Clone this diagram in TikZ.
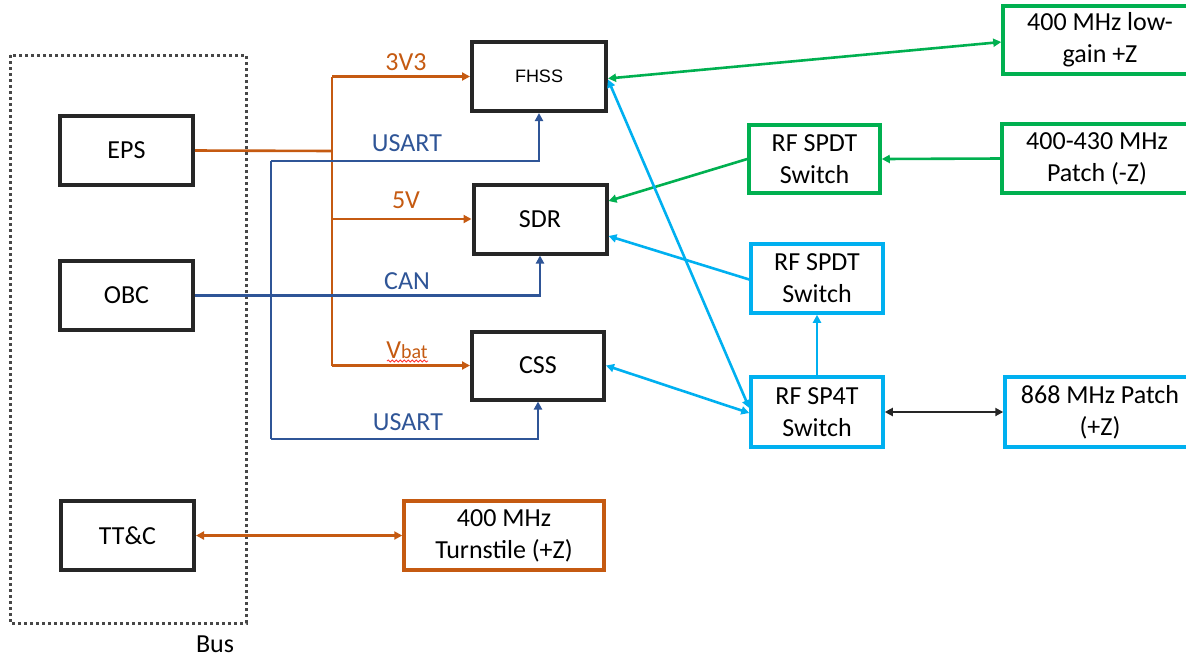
\documentclass[tikz,border=0pt]{standalone}
\usepackage{fontspec}
\setmainfont{Carlito}
\newfontfamily\arialfont{Liberation Sans}
\usetikzlibrary{arrows.meta,decorations.pathmorphing,calc}
\definecolor{boxblack}{HTML}{262626}
\definecolor{orng}{HTML}{C55A11}
\definecolor{dblue}{HTML}{2F5597}
\definecolor{grn}{HTML}{00B050}
\definecolor{cyn}{HTML}{00B0F0}
\tikzset{
  blk/.style={draw=boxblack, line width=4pt, rectangle, minimum width=133pt, minimum height=69pt, align=center, font=\fontsize{26}{31}\selectfont},
  cbox/.style={draw=#1, line width=3.5pt, rectangle, align=center, font=\fontsize{26}{32}\selectfont, inner sep=0pt},
  wire/.style={line width=2.6pt},
  tip/.style={-{Triangle[length=8pt,width=8pt]}},
  dtip/.style={{Triangle[length=8pt,width=8pt]}-{Triangle[length=8pt,width=8pt]}},
  lbl/.style={font=\fontsize{26}{31}\selectfont, inner sep=0pt},
}
\begin{document}
\begin{tikzpicture}[x=1pt,y=-1pt]
\useasboundingbox (0,0) rectangle (1186,657);
\clip (0,0) rectangle (1186,657);
% bus
\draw[boxblack!85, line width=3pt, dash pattern=on 3pt off 3pt] (10,55) rectangle (246,623);
\node[lbl] (bus) at (215,644) {Bus};
% black boxes
\node[blk] (EPS) at (126.5,150.5) {EPS};
\node[blk] (OBC) at (126.5,295.5) {OBC};
\node[blk] (TTC) at (127.5,535.5) {TT\&C};
\node[blk, minimum width=134pt, font=\arialfont\fontsize{18}{22}\selectfont] (FHSS) at (539,76.5) {FHSS};
\node[blk] (SDR) at (540,219) {SDR};
\node[blk, minimum width=132pt, minimum height=68pt] (CSS) at (538,365.5) {CSS};
% coloured boxes
\node[cbox=orng, minimum width=200pt, minimum height=69pt] (TS) at (504,535.5) {400 MHz\\Turnstile (+Z)};
\node[cbox=grn, minimum width=131pt, minimum height=68pt] (gSW) at (814.5,159) {RF SPDT\\Switch};
\node[cbox=cyn, minimum width=132pt, minimum height=69pt] (bSW) at (817,278.5) {RF SPDT\\Switch};
\node[cbox=cyn, minimum width=132pt, minimum height=70pt] (SP4T) at (817,412) {RF SP4T\\Switch};
\node[cbox=grn, minimum width=194pt, minimum height=68pt] (LG) at (1100,40) {400 MHz low-\\gain +Z};
\node[cbox=grn, minimum width=190pt, minimum height=69pt] (PZ) at (1097,158.5) {400-430 MHz\\Patch (-Z)};
\node[cbox=cyn, minimum width=190pt, minimum height=70pt] (P868) at (1100,412) {868 MHz Patch\\(+Z)};
% orange power bus
\coordinate (jE) at (332,151);
\coordinate (j3) at (332,76.5);
\coordinate (j5) at (332,219);
\coordinate (jV) at (332,365.5);
\draw[orng, wire] (EPS.east) -- (jE);
\draw[orng, wire] (j3) -- (jV);
\draw[orng, wire, tip] (j3) -- (FHSS.west);
\draw[orng, wire, tip] (j5) -- (SDR.west);
\draw[orng, wire, tip] (jV) -- (CSS.west);
\node[lbl, text=orng] (l3v3) at (406,62) {3V3};
\node[lbl, text=orng] (l5v) at (406,200) {5V};
\node[lbl, text=orng] (lvbat) at (407,350) {V{\fontsize{20}{22}\selectfont bat}};
\coordinate (sqA) at (387,361);
\coordinate (sqB) at (428,361);
\draw[red!80, line width=0.8pt, decorate, decoration={snake, amplitude=1.1pt, segment length=4pt}] (sqA) -- (sqB);
% dark blue data lines
\coordinate (bT) at (271,161);
\coordinate (bB) at (271,439);
\draw[dblue, wire] (bT) -- (bB);
\draw[dblue, wire, tip] (bT) -| (FHSS.south);
\draw[dblue, wire, tip] (bB) -| (CSS.south);
\draw[dblue, wire, tip] (OBC.east) -| (SDR.south);
\node[lbl, text=dblue] (lu1) at (407,143) {USART};
\node[lbl, text=dblue] (lcan) at (407,281) {CAN};
\node[lbl, text=dblue] (lu2) at (408,422) {USART};
% TT&C
\draw[orng, wire, dtip] (TTC.east) -- (TS.west);
% green RF
\draw[grn, wire, dtip] ([yshift=-2pt]FHSS.east) -- ([yshift=-2pt]LG.west);
\draw[grn, wire, tip] (PZ.west) -- (gSW.east);
\draw[grn, wire, tip] (gSW.west) -- ([yshift=18pt]SDR.east);
% cyan RF
\draw[cyn, wire, tip] ([yshift=-1pt]bSW.west) -- ([yshift=-17pt]SDR.east);
\draw[cyn, wire, dtip] ([yshift=4pt]SP4T.west) -- ([yshift=-3pt]FHSS.east);
\draw[cyn, wire, dtip] ([yshift=-1pt]SP4T.west) -- (CSS.east);
\draw[cyn, wire, tip] (SP4T.north) -- (bSW.south);
% black
\draw[boxblack, wire, dtip] (SP4T.east) -- (P868.west);
\end{tikzpicture}
\end{document}
